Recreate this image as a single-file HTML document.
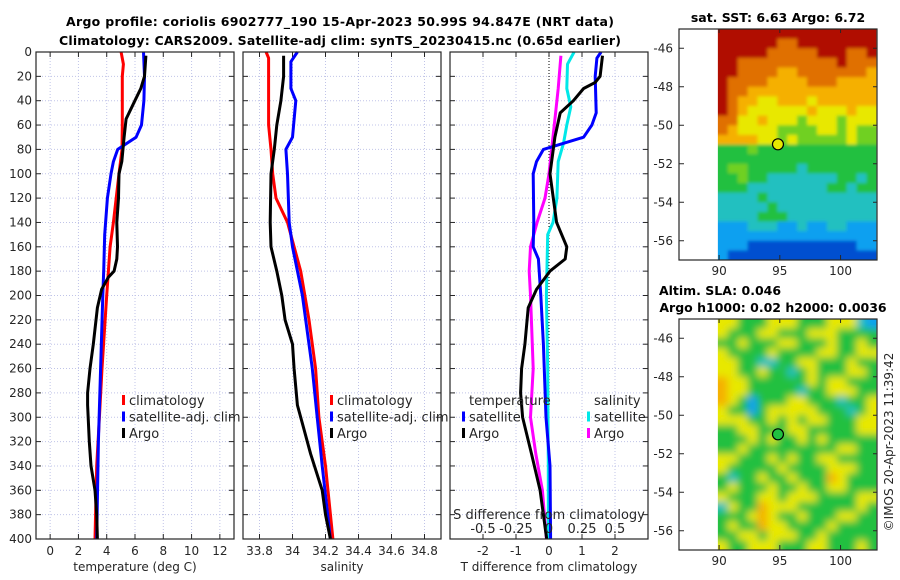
<!DOCTYPE html>
<html><head><meta charset="utf-8"><style>
html,body{margin:0;padding:0;background:#fff;}
svg{display:block;font-family:"DejaVu Sans","Liberation Sans",sans-serif;}
.tk{font-size:12px;fill:#262626;}
.tt{font-size:12.5px;font-weight:bold;fill:#000;}
</style></head><body>
<svg id="fig" width="900" height="580" viewBox="0 0 900 580" xmlns="http://www.w3.org/2000/svg">
<defs>
<filter id="blurA" x="-5%" y="-5%" width="110%" height="110%"><feGaussianBlur stdDeviation="4"/></filter>
<filter id="blurB" x="-5%" y="-5%" width="110%" height="110%"><feGaussianBlur stdDeviation="1.5"/></filter>
</defs>
<text class="tt" x="340" y="26" text-anchor="middle" textLength="548">Argo profile: coriolis 6902777_190 15-Apr-2023 50.99S 94.847E (NRT data)</text>
<text class="tt" x="340" y="45" text-anchor="middle" textLength="562">Climatology: CARS2009. Satellite-adj clim: synTS_20230415.nc (0.65d earlier)</text>
<text class="tt" x="778" y="22" text-anchor="middle">sat. SST: 6.63 Argo: 6.72</text>
<text class="tt" x="720" y="295" text-anchor="middle">Altim. SLA: 0.046</text>
<text class="tt" x="773" y="312" text-anchor="middle">Argo h1000: 0.02 h2000: 0.0036</text>
<text class="tk" transform="translate(893,442) rotate(-90)" text-anchor="middle">©IMOS 20-Apr-2023 11:39:42</text>
<g id="g"></g>
</svg>
<script>
const tClimDepth=[0,10,20,40,60,80,100,140,160,200,260,300,340,400];
const tClimVal=[5.02,5.18,5.1,5.1,5.1,5.08,4.87,4.47,4.24,4.0,3.67,3.48,3.29,3.17];
const tSatDepth=[0,20,40,60,70,80,90,100,120,150,180,200,260,320,400];
const tSatVal=[6.6,6.67,6.63,6.46,6.08,4.78,4.47,4.3,4.05,3.86,3.79,3.72,3.57,3.41,3.29];
const tArgoDepth=[3,20,30,40,55,70,90,100,120,140,160,170,180,185,195,210,240,260,280,290,320,340,360,380,400];
const tArgoVal=[6.77,6.67,6.41,5.99,5.37,5.23,5.07,4.87,4.83,4.71,4.76,4.71,4.52,4.12,3.64,3.34,3.05,2.82,2.65,2.65,2.77,2.89,3.17,3.29,3.34];
const sClimDepth=[0,5,60,80,100,120,140,160,180,220,260,300,340,400];
const sClimVal=[33.84,33.855,33.855,33.87,33.88,33.90,33.97,34.01,34.05,34.10,34.14,34.16,34.20,34.245];
const sSatDepth=[0,8,30,40,70,80,100,140,160,200,260,300,340,400];
const sSatVal=[34.03,33.99,33.99,34.02,34.0,33.96,33.97,33.98,34.0,34.06,34.12,34.15,34.18,34.23];
const sArgoDepth=[3,20,40,60,80,100,140,160,180,200,220,240,260,290,310,330,360,380,400];
const sArgoVal=[33.946,33.946,33.93,33.905,33.89,33.87,33.865,33.87,33.905,33.935,33.955,34.0,34.01,34.03,34.07,34.11,34.18,34.2,34.23];
const dTSatDepth=[0,5,20,50,60,70,80,90,100,140,160,170,200,240,300,340,400];
const dTSatVal=[1.58,1.45,1.4,1.43,1.3,1.05,-0.17,-0.38,-0.48,-0.46,-0.48,-0.32,-0.25,-0.17,-0.09,0.03,0.05];
const dTArgoDepth=[3,20,25,30,40,50,70,100,140,160,170,180,195,210,240,260,280,300,330,360,400];
const dTArgoVal=[1.62,1.55,1.4,1.05,0.74,0.34,0.18,0.03,0.23,0.54,0.49,0.03,-0.38,-0.63,-0.73,-0.83,-0.86,-0.8,-0.53,-0.27,-0.07];
const dSSatDepth=[0,10,30,45,60,75,90,120,140,150,200,260,340,400];
const dSSatVal=[0.19,0.14,0.135,0.165,0.135,0.11,0.07,0.06,0.03,-0.01,-0.02,-0.01,-0.005,-0.005];
const dSArgoDepth=[3,30,50,80,100,120,140,160,180,200,260,300,330,360,400];
const dSArgoVal=[0.09,0.07,0.05,0.02,0.0,-0.03,-0.09,-0.14,-0.15,-0.14,-0.12,-0.14,-0.1,-0.05,-0.02];
const depthTicks=[0,20,40,60,80,100,120,140,160,180,200,220,240,260,280,300,320,340,360,380,400];
const tempTicks=[0,2,4,6,8,10,12];
const salTicks=[33.8,34,34.2,34.4,34.6,34.8];
const salTickLabels=["33.8","34","34.2","34.4","34.6","34.8"];
const dTTicks=[-2,-1,0,1,2];
const dSTicks=[-0.5,-0.25,0,0.25,0.5];
const dSTickLabels=["-0.5","-0.25","0","0.25","0.5"];
const latTicks=[-46,-48,-50,-52,-54,-56];
const lonTicks=[90,95,100];
const sstGrid=["9999999999999999","9999998899999999","9999988888999889","9988888888889888","9988887788888887","9888877778887777","9887777777777777","9877667776777777","9876666667666766","8866766656665666","8766665555665655","7777665655555655","4445444444444444","4444444444444444","4554444434444444","4454433333334434","4443333333344344","3333433333333333","3333343333333333","3333444333333333","2223332232233222","2222222222222222","2221111111111122","2111111111111111"];
const slaGrid=["6644466644466632","6444664446664444","4464446644464464","6444464444664466","6644334466444644","6644644346444664","7664444446466444","7664444434466644","7642444664443446","6442466666444346","6664464646644466","4466444664444466","4446464464644444","4464444444446644","6644464644664444","6444446444466644","4344644644476444","4644464464466444","6444664666444466","3644766644444464","4446764464446644","4644766444464444","4466466644644444","6446664446644464"];
const palette=["#000080","#0050d0","#10a0f0","#20c0c0","#20c040","#70d020","#e8e800","#f5b000","#e07000","#b01000"];

const NS="http://www.w3.org/2000/svg";
const G=document.getElementById('g');
function mk(t,a,p){const e=document.createElementNS(NS,t);for(const k in a)e.setAttribute(k,a[k]);(p||G).appendChild(e);return e;}
const Y0=52,Y1=539;
const yD=d=>Y0+(d/400)*(Y1-Y0);
function lin(d0,d1,r0,r1){return v=>r0+(v-d0)/(d1-d0)*(r1-r0);}

function panel(name,x0,x1,xs,ticks,labels,xlabel,gridX,ylabels){
  const p=mk('g',{});
  
  
  gridX.forEach(v=>{mk('line',{x1:xs(v),x2:xs(v),y1:Y0,y2:Y1,stroke:'#c0c4e8','stroke-width':1,'stroke-dasharray':'1,2'},p);});
  depthTicks.forEach(d=>{mk('line',{x1:x0,x2:x1,y1:yD(d),y2:yD(d),stroke:'#c0c4e8','stroke-width':1,'stroke-dasharray':'1,2'},p);
    mk('line',{x1:x0,x2:x0+5,y1:yD(d),y2:yD(d),stroke:'#262626'},p);mk('line',{x1:x1-5,x2:x1,y1:yD(d),y2:yD(d),stroke:'#262626'},p);
    if(ylabels){const t=mk('text',{x:x0-4,y:yD(d)+4,'text-anchor':'end',class:'tk'},p);t.textContent=d;
      
      }});
  ticks.forEach((v,i)=>{mk('line',{x1:xs(v),x2:xs(v),y1:Y1,y2:Y1-5,stroke:'#262626'},p);mk('line',{x1:xs(v),x2:xs(v),y1:Y0,y2:Y0+5,stroke:'#262626'},p);
    const t=mk('text',{x:xs(v),y:555,'text-anchor':'middle',class:'tk'},p);t.textContent=labels[i];
    
    });
  const xl=mk('text',{x:(x0+x1)/2,y:571,'text-anchor':'middle',class:'tk'},p);xl.textContent=xlabel;
  
  
  return p;
}
function frame(x0,x1,p){mk('rect',{x:x0,y:Y0,width:x1-x0,height:Y1-Y0,fill:'none',stroke:'#262626','stroke-width':1.2},p);}
function line(p,xs,dep,val,col,name){
  const pts=dep.map((d,i)=>xs(val[i]).toFixed(1)+','+yD(d).toFixed(1)).join(' ');
  const e=mk('polyline',{points:pts,fill:'none',stroke:col,'stroke-width':3,'stroke-linejoin':'round'},p);
  
  
}
function legend(p,x,y,items){items.forEach((it,i)=>{
  if(it[0])mk('rect',{x:x,y:y+i*16.5-10,width:3,height:10,fill:it[0]},p);
  const t=mk('text',{x:x+7,y:y+i*16.5,class:'tk',style:'font-size:13px'},p);t.textContent=it[1];
  
  });}

const xT=lin(-1,13,36,234);
const p1=panel('temperature',36,234,xT,tempTicks,tempTicks.map(String),'temperature (deg C)',tempTicks,true);
line(p1,xT,tClimDepth,tClimVal,'#ff0000','temp-climatology-line');
line(p1,xT,tSatDepth,tSatVal,'#0000ff','temp-satellite-line');
line(p1,xT,tArgoDepth,tArgoVal,'#000000','temp-argo-line');
frame(36,234,p1);
legend(p1,122,405,[['#ff0000','climatology'],['#0000ff','satellite-adj. clim'],['#000','Argo']]);
const xS=lin(33.7,34.9,243,441);
const p2=panel('salinity',243,441,xS,salTicks,salTickLabels,'salinity',salTicks,false);
line(p2,xS,sClimDepth,sClimVal,'#ff0000','sal-climatology-line');
line(p2,xS,sSatDepth,sSatVal,'#0000ff','sal-satellite-line');
line(p2,xS,sArgoDepth,sArgoVal,'#000000','sal-argo-line');
frame(243,441,p2);
legend(p2,330,405,[['#ff0000','climatology'],['#0000ff','satellite-adj. clim'],['#000','Argo']]);
const xDT=lin(-3,3,450,648), xDS=lin(-0.75,0.75,450,648);
const p3=panel('difference',450,648,xDT,dTTicks,dTTicks.map(String),'T difference from climatology',dTTicks,false);
mk('line',{x1:xDT(0),x2:xDT(0),y1:Y0,y2:Y1,stroke:'#000','stroke-dasharray':'1,2'},p3);
line(p3,xDS,dSSatDepth,dSSatVal,'#00e8e8','sdiff-satellite-line');
line(p3,xDS,dSArgoDepth,dSArgoVal,'#ff00ff','sdiff-argo-line');
line(p3,xDT,dTSatDepth,dTSatVal,'#0000ff','tdiff-satellite-line');
line(p3,xDT,dTArgoDepth,dTArgoVal,'#000000','tdiff-argo-line');
frame(450,648,p3);
legend(p3,462,405,[[null,'temperature'],['#0000ff','satellite'],['#000','Argo']]);
legend(p3,587,405,[[null,'salinity'],['#00e8e8','satellite'],['#ff00ff','Argo']]);
const sl=mk('text',{x:549,y:519,'text-anchor':'middle',class:'tk',style:'font-size:13px'},p3);sl.textContent='S difference from climatology';


dSTicks.forEach((v,i)=>{const t=mk('text',{x:xDS(v),y:533,'text-anchor':'middle',class:'tk',style:'font-size:13px'},p3);t.textContent=dSTickLabels[i];
  
  });

function map(name,top,grid,circleFill,filt){
  const bx0=679,bx1=877,by1=top+231;
  const lonS=lin(86.7,103,bx0,bx1), latS=lin(-45,-57,top,by1);
  const m=mk('g',{});
  
  
  const cx0=lonS(89.9),cx1=lonS(102.95),rows=grid.length,cols=grid[0].length;
  const cw=(cx1-cx0)/cols,ch=(by1-top)/rows;
  const cp=mk('clipPath',{id:name+'-clip'},m);
  mk('rect',{x:cx0,y:top,width:cx1-cx0,height:by1-top},cp);
  const outer=mk('g',{'clip-path':'url(#'+name+'-clip)'},m);
  const cells=mk('g',{filter:'url(#'+filt+')'},outer);
  grid.forEach((r,i)=>{for(let j=0;j<cols;j++){
    const x=cx0+j*cw-(j==0?8:0), w=cw+0.6+(j==0?8:0)+(j==cols-1?8:0);
    const y=top+i*ch-(i==0?8:0), h=ch+0.6+(i==0?8:0)+(i==rows-1?8:0);
    const c=mk('rect',{x:x.toFixed(2),y:y.toFixed(2),width:w.toFixed(2),height:h.toFixed(2),fill:palette[+r[j]]},cells);
    
    }});
  mk('rect',{x:bx0,y:top,width:bx1-bx0,height:by1-top,fill:'none',stroke:'#262626','stroke-width':1.2},m);
  latTicks.forEach(v=>{mk('line',{x1:bx0,x2:bx0+5,y1:latS(v),y2:latS(v),stroke:'#262626'},m);mk('line',{x1:bx1-4,x2:bx1,y1:latS(v),y2:latS(v),stroke:'#262626'},m);
    const t=mk('text',{x:bx0-6,y:latS(v)+4,'text-anchor':'end',class:'tk'},m);t.textContent=v;
    
    });
  lonTicks.forEach(v=>{mk('line',{x1:lonS(v),x2:lonS(v),y1:by1,y2:by1-5,stroke:'#262626'},m);mk('line',{x1:lonS(v),x2:lonS(v),y1:top,y2:top+4,stroke:'#262626'},m);
    const t=mk('text',{x:lonS(v),y:by1+15,'text-anchor':'middle',class:'tk'},m);t.textContent=v;
    
    });
  const c=mk('circle',{cx:lonS(94.847),cy:latS(-50.99),r:5.5,fill:circleFill,stroke:'#000','stroke-width':1.2},m);
  
  
}
map('sst-map',29,sstGrid,'#e8e800','blurB');
map('sla-map',319,slaGrid,'#20c040','blurA');
</script>
</body></html>
